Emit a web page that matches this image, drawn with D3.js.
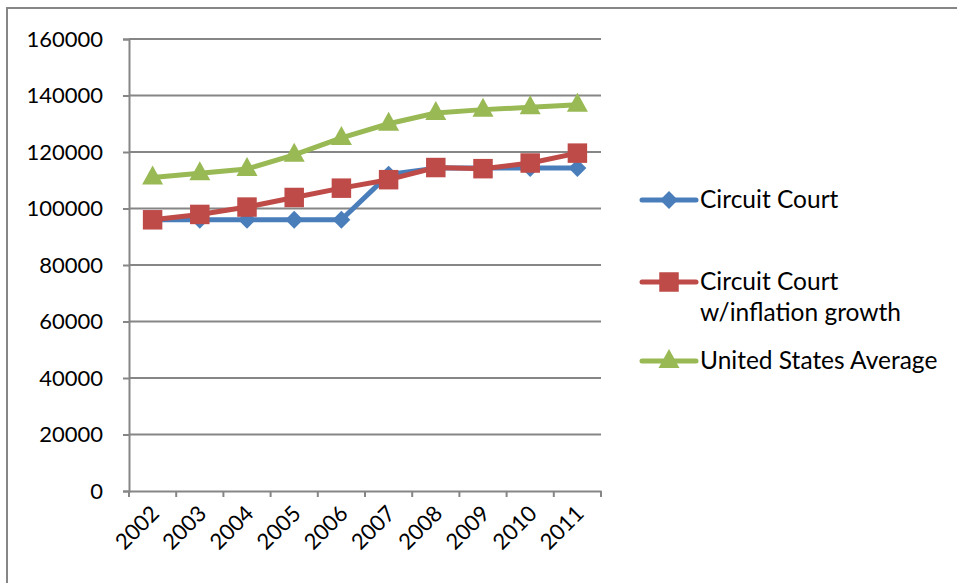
<!DOCTYPE html>
<html><head><meta charset="utf-8">
<script src="https://cdn.jsdelivr.net/npm/d3@7"></script>
<style>body{margin:0;background:#fff}svg{display:block}text{font-family:Lato,"Open Sans",sans-serif;fill:#000}</style>
</head><body>
<script>
const years = ["2002","2003","2004","2005","2006","2007","2008","2009","2010","2011"];
const circuitCourt = [96000,96000,96000,96000,96000,112000,114300,114300,114300,114300];
const circuitInflation = [96000,97900,100500,103900,107200,110200,114500,114100,116100,119600];
const usAverage = [111000,112500,114000,119000,125000,130000,133800,135000,135800,136700];
const yTicks = [0,20000,40000,60000,80000,100000,120000,140000,160000];
const seriesNames = ["Circuit Court","Circuit Court\nw/inflation growth","United States Average"];
const colors = ["#4a7ebb","#be4b48","#98b954"];
const shapes = ["diamond","square","triangle"];

const W=957,H=583;
const svg=d3.select("body").append("svg").attr("width",W).attr("height",H);
svg.append("path").attr("d",`M${W+5},8 H7 V${H+5}`).attr("fill","none").attr("stroke","#868686").attr("stroke-width",2);

const x=d3.scaleBand().domain(years).range([129,601]);
const y=d3.scaleLinear().domain([0,160000]).range([491,39]);

// grid
svg.append("g").selectAll("line").data(yTicks.filter(d=>d>0)).join("line")
 .attr("x1",129).attr("x2",601).attr("y1",d=>y(d)).attr("y2",d=>y(d))
 .attr("stroke","#868686").attr("stroke-width",2);

const yAxis=svg.append("g").attr("transform","translate(129,0)")
 .call(d3.axisLeft(y).tickValues(yTicks).tickSize(6).tickPadding(20).tickFormat(d3.format("d")));
yAxis.select(".domain").attr("stroke","#868686").attr("stroke-width",2);
yAxis.selectAll(".tick line").attr("stroke","#868686").attr("stroke-width",2);
yAxis.selectAll("text").attr("font-size",22).attr("fill","#000").style("font-family","Lato");

const xAxis=svg.append("g").attr("transform","translate(0,491)")
 .call(d3.axisBottom(x).tickSize(0).tickPadding(0).tickFormat(""));
xAxis.select(".domain").attr("stroke","#868686").attr("stroke-width",2);
// boundary ticks
const bounds=years.map(d=>x(d)).concat([x.range()[1]]);
svg.append("g").selectAll("line").data(bounds).join("line")
 .attr("x1",d=>d).attr("x2",d=>d).attr("y1",491).attr("y2",497)
 .attr("stroke","#868686").attr("stroke-width",2);
svg.append("g").selectAll("text").data(years).join("text")
 .attr("transform",d=>`translate(${x(d)+x.bandwidth()/2+8},515) rotate(-45)`)
 .attr("text-anchor","end").attr("font-size",22).text(d=>d);

const cx=d=>x(d)+x.bandwidth()/2;
function marker(g,shape,color,px,py){
  if(shape==="diamond"){
    g.append("path").attr("d",d3.symbol().type(d3.symbolSquare).size(160)()).attr("transform",`translate(${px},${py}) rotate(45)`).attr("fill",color);}
  else if(shape==="square"){
    g.append("path").attr("d",d3.symbol().type(d3.symbolSquare).size(380)()).attr("transform",`translate(${px},${py})`).attr("fill",color);}
  else {
    g.append("path").attr("d","M0,-12L10.5,7L-10.5,7Z").attr("transform",`translate(${px},${py})`).attr("fill",color);}
}
const allSeries=[circuitCourt,circuitInflation,usAverage];
const line=d3.line().x((d,i)=>cx(years[i])).y(d=>y(d));
allSeries.forEach((vals,si)=>{
  const g=svg.append("g");
  g.append("path").datum(vals).attr("d",line).attr("fill","none").attr("stroke",colors[si]).attr("stroke-width",5).attr("stroke-linejoin","round");
  vals.forEach((v,i)=>marker(g,shapes[si],colors[si],cx(years[i]),y(v)));
});

// legend
const legY=[200,282,361];
seriesNames.forEach((n,i)=>{
  const g=svg.append("g");
  g.append("line").attr("x1",642).attr("x2",696).attr("y1",legY[i]).attr("y2",legY[i]).attr("stroke",colors[i]).attr("stroke-width",5).attr("stroke-linecap","round");
  marker(g,shapes[i],colors[i],669,legY[i]);
  n.split("\n").forEach((t,j)=>{
    g.append("text").attr("x",700).attr("y",legY[i]+8+j*31).attr("font-size",24.5).text(t);
  });
});
</script>
</body></html>
